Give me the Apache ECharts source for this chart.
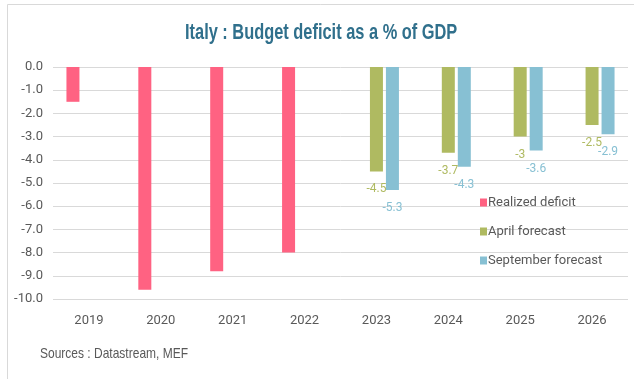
<!DOCTYPE html>
<html>
<head>
<meta charset="utf-8">
<script src="https://cdn.jsdelivr.net/npm/echarts@6/dist/echarts.min.js"></script>
<style>
html,body{margin:0;padding:0;background:#fff;}
#chart{width:634px;height:379px;}
</style>
</head>
<body>
<div id="chart"></div>
<script>
var categories = ['2019','2020','2021','2022','2023','2024','2025','2026'];
var realized = [-1.5, -9.6, -8.8, -8.0, null, null, null, null];
var april = [null, null, null, null, -4.5, -3.7, -3, -2.5];
var september = [null, null, null, null, -5.3, -4.3, -3.6, -2.9];
var yTicks = ['0.0','-1.0','-2.0','-3.0','-4.0','-5.0','-6.0','-7.0','-8.0','-9.0','-10.0'];
var titleText = 'Italy : Budget deficit as a % of GDP';
var sourceText = 'Sources : Datastream, MEF';

var FONT = 'Roboto';
var NARROW = '"Liberation Sans"';
var C_REAL = '#FF6282', C_APR = '#AFBA61', C_SEP = '#87C0D3';

var chart = echarts.init(document.getElementById('chart'), null, {renderer:'canvas'});
chart.setOption({
  backgroundColor: '#fff',
  animation: false,
  textStyle: {fontFamily: FONT},
  graphic: [
    {type:'line', shape:{x1:7.5, y1:4.5, x2:7.5, y2:379}, style:{stroke:'#D9D9D9', lineWidth:1}},
    {type:'line', shape:{x1:7.5, y1:4.5, x2:634, y2:4.5}, style:{stroke:'#D9D9D9', lineWidth:1}},
    {type:'text', x:185, y:22, scaleX:0.745, scaleY:1,
     style:{text:titleText, fill:'#30708C', font:'bold 22px ' + NARROW, verticalAlign:'top', align:'left'}},
    {type:'text', x:40, y:346, scaleX:0.8, scaleY:1,
     style:{text:sourceText, fill:'#595959', font:'15px ' + NARROW, verticalAlign:'top', align:'left'}}
  ],
  legend: {
    orient: 'vertical', left: 475, top: 191, itemGap: 16,
    itemWidth: 7, itemHeight: 8, icon: 'rect',
    textStyle: {color:'#595959', fontSize:13, fontFamily: FONT, padding:[0,0,0,-4]},
    data: ['Realized deficit','April forecast','September forecast']
  },
  grid: {left:53, right:6, top:67, bottom:80, containLabel:false},
  xAxis: {
    type:'category', data: categories, position:'bottom',
    axisLine:{show:false}, axisTick:{show:false},
    axisLabel:{color:'#595959', fontSize:13, margin:15, fontFamily: FONT}
  },
  yAxis: {
    type:'value', min:-10, max:0, interval:1,
    axisLine:{show:false}, axisTick:{show:false},
    axisLabel:{color:'#595959', fontSize:13, margin:10, fontFamily: FONT,
      formatter:function(v){ return yTicks[Math.round(-v)]; }},
    splitLine:{lineStyle:{color:'#D9D9D9', width:1}}
  },
  series: [
    {name:'Realized deficit', type:'bar', data: realized, barWidth:13, barGap:'23%',
     itemStyle:{color:C_REAL}},
    {name:'April forecast', type:'bar', data: april, barWidth:13, barGap:'23%',
     itemStyle:{color:C_APR},
     label:{show:true, position:'bottom', distance:12, color:C_APR, fontSize:12, fontFamily: FONT}},
    {name:'September forecast', type:'bar', data: september, barWidth:13, barGap:'23%',
     itemStyle:{color:C_SEP},
     label:{show:true, position:'bottom', distance:12, color:C_SEP, fontSize:12, fontFamily: FONT}}
  ]
});
</script>
</body>
</html>
